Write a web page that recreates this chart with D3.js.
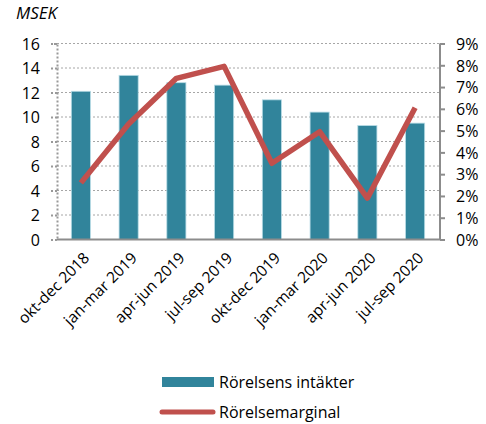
<!DOCTYPE html>
<html><head><meta charset="utf-8">
<script src="https://cdn.jsdelivr.net/npm/d3@7"></script>
<style>body{margin:0;background:#fff}svg{display:block}text{font-family:"Open Sans",sans-serif;fill:#000}</style>
</head><body><svg id="c" width="486" height="424"></svg>
<script>
const categories = ["okt-dec 2018","jan-mar 2019","apr-jun 2019","jul-sep 2019","okt-dec 2019","jan-mar 2020","apr-jun 2020","jul-sep 2020"];
const revenue = [12.1, 13.4, 12.8, 12.6, 11.4, 10.4, 9.3, 9.5];
const margin = [2.6, 5.3, 7.4, 7.95, 3.5, 4.95, 1.9, 6.05];
const leftTicks = [0,2,4,6,8,10,12,14,16];
const rightTicks = [0,1,2,3,4,5,6,7,8,9];
const seriesNames = ["Rörelsens intäkter","Rörelsemarginal"];
const unitLabel = "MSEK";

const svg = d3.select("#c");
const L = 57, R = 439, T = 43.5, B = 239.5;
const x = d3.scaleBand().domain(categories).range([L, R]).paddingInner(0.6).paddingOuter(0.3);
const xc = d3.scalePoint().domain(categories).range([L, R]).padding(0.5);
const y = d3.scaleLinear().domain([0,16]).range([B, T]);
const y2 = d3.scaleLinear().domain([0,9]).range([B, T]);
const barColor = "#31849B", lineColor = "#C0504D";

// gridlines
svg.append("g").selectAll("line").data(leftTicks.filter(d=>d>0)).join("line")
  .attr("x1", L).attr("x2", R).attr("y1", d=>y(d)).attr("y2", d=>y(d))
  .attr("stroke", "#a6a6a6").attr("stroke-width", 1).attr("stroke-dasharray", "2,2");

// left axis
const la = svg.append("g").attr("transform", `translate(${L},0)`)
  .call(d3.axisLeft(y).tickValues(leftTicks).tickSize(6).tickPadding(11));
la.select(".domain").attr("stroke", "#999").attr("stroke-width", 2).attr("stroke-dasharray", "2,2");
la.selectAll(".tick line").attr("stroke", "#999").attr("stroke-width", 2).attr("stroke-dasharray", "2,2");
la.selectAll("text").style("font-size", "16px").attr("fill", "#000").attr("dy", "0.36em");

// right axis
const ra = svg.append("g").attr("transform", `translate(${R+1},0)`)
  .call(d3.axisRight(y2).tickValues(rightTicks).tickFormat(d=>d+"%").tickSize(5).tickPadding(11));
ra.select(".domain").attr("stroke", "#8c8c8c").attr("stroke-width", 2).attr("d", `M0,${T}V${B}`);
ra.selectAll(".tick line").attr("stroke", "#8c8c8c").attr("stroke-width", 2);
ra.selectAll("text").style("font-size", "16px").attr("fill", "#000").attr("dy", "0.36em");

// bars
svg.append("g").selectAll("rect").data(revenue).join("rect")
  .attr("x", (d,i)=>x(categories[i])).attr("width", x.bandwidth())
  .attr("y", d=>y(d)).attr("height", d=>y(0)-y(d))
  .attr("fill", barColor).attr("stroke", "#b7dbe5").attr("stroke-width", 0.8);

// bottom axis
svg.append("line").attr("x1", L).attr("x2", R+1).attr("y1", B).attr("y2", B)
  .attr("stroke", "#8c8c8c").attr("stroke-width", 2);

// x labels
svg.append("g").selectAll("text").data(categories).join("text")
  .attr("transform", d=>`translate(${xc(d)+4},${B+14}) rotate(-45)`)
  .attr("text-anchor", "end").attr("dy", "0.5em")
  .style("font-size", "15.5px").text(d=>d);

// line
const line = d3.line().x((d,i)=>xc(categories[i])).y(d=>y2(d));
svg.append("path").datum(margin).attr("d", line)
  .attr("fill", "none").attr("stroke", lineColor).attr("stroke-width", 5.5)
  .attr("stroke-linejoin", "round").attr("stroke-linecap", "butt");

// unit label
svg.append("text").attr("x", 16).attr("y", 19).style("font-size", "17px").style("font-style", "italic").text(unitLabel);

// legend
const lg = svg.append("g");
lg.append("rect").attr("x", 162).attr("y", 377).attr("width", 52).attr("height", 10).attr("fill", barColor);
lg.append("text").attr("x", 219).attr("y", 388).style("font-size", "16px").text(seriesNames[0]);
lg.append("line").attr("x1", 162).attr("x2", 213).attr("y1", 412).attr("y2", 412)
  .attr("stroke", lineColor).attr("stroke-width", 5).attr("stroke-linecap", "round");
lg.append("text").attr("x", 219).attr("y", 418).style("font-size", "16px").text(seriesNames[1]);
</script></body></html>
